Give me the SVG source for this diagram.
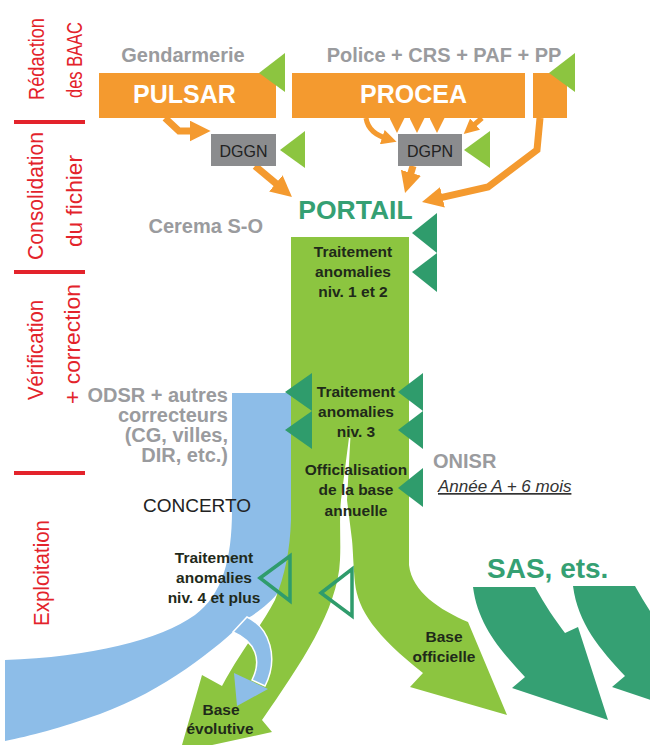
<svg xmlns="http://www.w3.org/2000/svg" width="650" height="745" viewBox="0 0 650 745">
<defs>
<marker id="ah" viewBox="0 0 10 10" refX="4" refY="5" markerWidth="3" markerHeight="3" orient="auto" markerUnits="strokeWidth"><path d="M0,0 L10,5 L0,10 z" fill="#F49A2F"/></marker>
</defs>
<style>
.lab{font-family:"Liberation Sans",Arial,sans-serif;}
.red{fill:#E3232B;font-size:22px;text-anchor:middle}
.gray{fill:#9A9B9E;font-weight:bold;font-size:20px}
.box{fill:#F49A2F}
.white{fill:#fff;font-weight:bold;font-size:25px;text-anchor:middle}
.gbox{fill:#8B8C8E}
.dg{fill:#222;font-size:16px;text-anchor:middle}
.tri{fill:#8CC540}
.dtri{fill:#2F9C6C}
.otri{fill:none;stroke:#2F9C6C;stroke-width:3.5}
.arr{fill:none;stroke:#F49A2F;stroke-width:7;marker-end:url(#ah)}
.arr5{stroke-width:5}
.in{fill:#1F2A1A;font-weight:bold;font-size:15.5px;text-anchor:middle}
.bar{fill:#E3232B}
.lg{fill:#8CC540}
.teal{fill:#35A073}
.blue{fill:#8DBDE8}
</style>
<rect width="650" height="745" fill="#fff"/>

<g id="sidebar">
<rect class="bar" x="14" y="120" width="71" height="4"/>
<rect class="bar" x="14" y="270" width="71" height="4"/>
<rect class="bar" x="14" y="471" width="71" height="4"/>
<text class="lab red" transform="translate(44,59) rotate(-90)" textLength="82" lengthAdjust="spacingAndGlyphs">Rédaction</text>
<text class="lab red" transform="translate(82,60) rotate(-90)" font-size="21" textLength="76" lengthAdjust="spacingAndGlyphs">des BAAC</text>
<text class="lab red" transform="translate(43,196) rotate(-90)" textLength="128" lengthAdjust="spacingAndGlyphs">Consolidation</text>
<text class="lab red" transform="translate(82,201) rotate(-90)" textLength="92" lengthAdjust="spacingAndGlyphs">du fichier</text>
<text class="lab red" transform="translate(43,350) rotate(-90)" textLength="100" lengthAdjust="spacingAndGlyphs">Vérification</text>
<text class="lab red" transform="translate(80,344) rotate(-90)" textLength="120" lengthAdjust="spacingAndGlyphs">+ correction</text>
<text class="lab red" transform="translate(49,573) rotate(-90)" textLength="106" lengthAdjust="spacingAndGlyphs">Exploitation</text>
</g>

<g id="concerto">
<path class="blue" d="M232,393 H296 V555 C 290,585 270,605 248,618 C 215,650 165,690 100,714 C 60,728 30,736 5,741 V660 C 90,657 160,640 195,615 C 222,595 232,560 232,510 Z"/>
<text class="lab" x="143" y="512" font-size="19" fill="#222">CONCERTO</text>
</g>

<g id="flow">
<rect class="lg" x="291" y="237" width="118" height="201"/>
<path id="branch-left" class="lg" d="M291,436 H349.2 L341,500 C 339,520 341,540 340,560 C 338,610 300,665 262,720 L 272,732 L 180,752 L 202,675 L 222,686 C 240,652 262,625 275,600 C 285,575 290,550 291,520 Z"/>
<path id="branch-right" class="lg" d="M350.5,436 H409 V565 C 412,592 440,610 468,622 L 507,715 L 410,687 L 423,673 C 375,635 358,610 355,583 C 353,560 353,550 352,540 L 347,500 Z"/>
<path id="sas1" class="teal" d="M473,587 L535,587 C 545,605 555,620 565,633 L 578,627 L 608,720 L 512,688 L 525,677 C 500,650 478,625 473,587 Z"/>
<path id="sas2" class="teal" transform="translate(100,-1)" d="M473,587 L535,587 C 545,605 555,620 565,633 L 578,627 L 608,720 L 512,688 L 525,677 C 500,650 478,625 473,587 Z"/>
</g>

<g id="return-arrow">
<path class="blue" stroke="#fff" stroke-width="1.5" d="M247,617 C 270,628 279,658 265,686 L 252,680 C 262,660 256,642 233,632 Z"/>
<polygon class="blue" points="234,673 268,689 237,706"/>
</g>

<g id="connectors">
<polyline class="arr" points="165,118 179,131 198,131"/>
<line class="arr" x1="255" y1="166" x2="282.3" y2="188.8"/>
<path class="arr arr5" d="M366,118 C 368,130 376,135 388,139"/>
<line class="arr arr5" x1="397" y1="118" x2="397" y2="124"/>
<line class="arr arr5" x1="417" y1="118" x2="417" y2="124"/>
<line class="arr arr5" x1="437" y1="118" x2="437" y2="124"/>
<line class="arr arr5" x1="482" y1="118" x2="470.5" y2="128"/>
<line class="arr" x1="413" y1="166" x2="408.6" y2="180.9"/>
<polyline class="arr" points="540,118 537,150 488,187 434.3,199.2"/>
</g>

<g id="pulsar">
<rect class="box" x="99" y="73" width="177" height="45"/>
<text class="lab white" x="184.5" y="103">PULSAR</text>
<text class="lab gray" x="183" y="62" text-anchor="middle">Gendarmerie</text>
<polygon class="tri" points="259,73 285,53 285,92"/>
</g>
<g id="procea">
<rect class="box" x="292" y="73" width="233" height="45"/>
<text class="lab white" x="413.5" y="103">PROCEA</text>
<text class="lab gray" x="444" y="62" text-anchor="middle">Police + CRS + PAF + PP</text>
</g>
<g id="pp">
<rect class="box" x="533" y="73" width="34" height="45"/>
<polygon class="tri" points="549,73 575,53 575,92"/>
</g>
<g id="dggn">
<rect class="gbox" x="211" y="134" width="65" height="32"/>
<text class="lab dg" x="243.5" y="157">DGGN</text>
<polygon class="tri" points="280,150 305,131 305,168"/>
</g>
<g id="dgpn">
<rect class="gbox" x="398" y="134" width="64" height="32"/>
<text class="lab dg" x="430" y="157">DGPN</text>
<polygon class="tri" points="464,150 490,131 490,168"/>
</g>
<g id="portail">
<text class="lab" x="355.5" y="219" font-size="26.5" font-weight="bold" fill="#35A073" text-anchor="middle">PORTAIL</text>
<text class="lab gray" x="263" y="233" text-anchor="end" font-size="20.5">Cerema S-O</text>
<polygon class="dtri" points="412,233 437,213 437,253"/>
<polygon class="dtri" points="412,272 437,253 437,292"/>
</g>
<g id="niv12">
<text class="lab in" x="353" y="257">Traitement</text>
<text class="lab in" x="353" y="277">anomalies</text>
<text class="lab in" x="353" y="297">niv. 1 et 2</text>
</g>
<g id="niv3">
<polygon class="dtri" points="285,392 312,373 312,411"/>
<polygon class="dtri" points="285,430 312,411 312,449"/>
<polygon class="dtri" points="398,392 423,373 423,411"/>
<polygon class="dtri" points="398,430 423,411 423,449"/>
<text class="lab in" x="356" y="397">Traitement</text>
<text class="lab in" x="356" y="417">anomalies</text>
<text class="lab in" x="356" y="437">niv. 3</text>
</g>
<g id="odsr">
<text class="lab gray" text-anchor="end" x="228" y="402">ODSR + autres</text>
<text class="lab gray" text-anchor="end" x="228" y="422">correcteurs</text>
<text class="lab gray" text-anchor="end" x="228" y="442">(CG, villes,</text>
<text class="lab gray" text-anchor="end" x="228" y="462">DIR, etc.)</text>
</g>
<g id="officialisation">
<polygon class="dtri" points="398,488 423,468 423,507"/>
<text class="lab in" x="356" y="475">Officialisation</text>
<text class="lab in" x="356" y="495">de la base</text>
<text class="lab in" x="356" y="516">annuelle</text>
<text class="lab gray" x="433" y="468">ONISR</text>
<text class="lab" x="438" y="492" font-size="17" font-style="italic" fill="#333" text-decoration="underline">Année A + 6 mois</text>
</g>
<g id="niv4">
<polygon class="otri" points="260,578 290,556 290,601"/>
<polygon class="otri" points="321,593 352,569 352,616"/>
<text class="lab in" x="214" y="563" fill="#1D2530">Traitement</text>
<text class="lab in" x="214" y="583" fill="#1D2530">anomalies</text>
<text class="lab in" x="214" y="603" fill="#1D2530">niv. 4 et plus</text>
</g>
<g id="base-evolutive">
<text class="lab in" x="221" y="715">Base</text>
<text class="lab in" x="220" y="734">évolutive</text>
</g>
<g id="base-officielle">
<text class="lab in" x="444" y="642">Base</text>
<text class="lab in" x="444" y="662">officielle</text>
</g>
<g id="sas">
<text class="lab" x="487" y="578" font-size="28" font-weight="bold" fill="#35A073">SAS, ets.</text>
</g>
</svg>
